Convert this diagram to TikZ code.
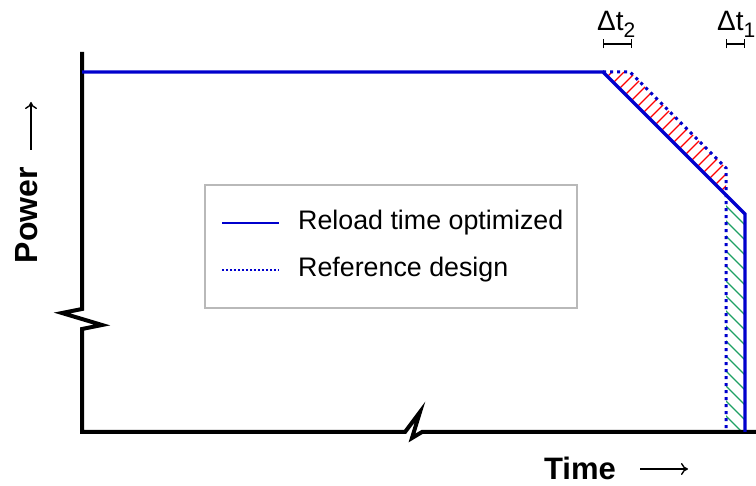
\documentclass[tikz,border=0pt]{standalone}
\usepackage{fontspec}
\setmainfont{Liberation Sans}
\usetikzlibrary{arrows.meta}

\definecolor{curveblue}{RGB}{0,0,205}
\definecolor{hatchred}{RGB}{255,0,0}
\definecolor{hatchgreen}{RGB}{30,160,100}

\begin{document}
\begin{tikzpicture}[x=1pt,y=-1pt]
   \tikzstyle{axis}=[draw=black, line width=4pt, line join=miter]
   \tikzstyle{optimized}=[draw=curveblue, line width=3.2pt, line join=miter]
   \tikzstyle{reference}=[draw=curveblue, line width=3pt, dash pattern=on 3pt off 4pt]
   \tikzstyle{hatch}=[line width=1.4pt]
   \tikzstyle{interval}=[line width=1.4pt, {Bar[width=9pt]}-{Bar[width=9pt]}]
   \tikzstyle{every node}=[inner sep=0pt, font=\fontsize{26.8}{30}\selectfont]
   \useasboundingbox (0,0) rectangle (756,486);

% corner points of both curves
\coordinate (ytop) at (82,52);
\coordinate (origin) at (82,432);
\coordinate (xend) at (756,432);
\coordinate (start) at (82,72);
\coordinate (optknee) at (603,72);
\coordinate (optdrop) at (745,214);
\coordinate (optend) at (745,432);
\coordinate (refknee) at (630,72);
\coordinate (refdrop) at (726,168);
\coordinate (refend) at (726,432);
\coordinate (cross) at (726,195);

% hatched areas
\begin{scope}
   \clip (optknee) -- (refknee) -- (refdrop) -- (cross) -- cycle;
   \foreach \c in {672,684,...,936}
      \draw[hatch, hatchred] (\c-200,200) -- (\c-60,60);
\end{scope}
\begin{scope}
   \clip (cross) -- (optdrop) -- (optend) -- (refend) -- cycle;
   \foreach \c in {280,295,...,560}
      \draw[hatch, hatchgreen] (\c+180,180) -- (\c+450,450);
\end{scope}

% axes with breaks
\draw[axis] (ytop) -- (82,309) -- (62,313) -- (102,325) -- (82,329) -- (origin)
   -- (405,432) -- (420,412) -- (412,438) -- (422,432) -- (xend);

% curves
\draw[reference] (optknee) -- (refknee) -- (refdrop) -- (refend);
\draw[optimized] (start) -- (optknee) -- (optdrop) -- (optend);

% intervals
\node[anchor=base west, font=\fontsize{28}{30}\selectfont] (dt2) at (597,31) {Δt\raisebox{-0.25em}{\fontsize{21}{21}\selectfont 2}};
\node[anchor=base west, font=\fontsize{28}{30}\selectfont] (dt1) at (717,31) {Δt\raisebox{-0.25em}{\fontsize{21}{21}\selectfont 1}};
\coordinate (dt2a) at (603,44);
\coordinate (dt2b) at (632,44);
\coordinate (dt1a) at (726,44);
\coordinate (dt1b) at (745,44);
\draw[interval] (dt2a) -- (dt2b);
\draw[interval] (dt1a) -- (dt1b);

% legend
\node[draw=gray!55, line width=1.2pt, fill=white, minimum width=372pt, minimum height=123pt] (legend) at (391,246.5) {};
\coordinate (optA) at (222,223);
\coordinate (optB) at (279,223);
\coordinate (refA) at (222,270);
\coordinate (refB) at (279,270);
\draw[draw=curveblue, line width=2.5pt] (optA) -- (optB);
\draw[draw=curveblue, line width=2pt, dash pattern=on 2pt off 2pt] (refA) -- (refB);
\node[anchor=west] (lopt) at (298,223) {Reload time optimized};
\node[anchor=west] (lref) at (298,270) {Reference design};

% axis titles
\node[rotate=90, anchor=base, font=\fontsize{32}{34}\bfseries] (power) at (37,215) {Power};
\node[anchor=base, font=\fontsize{31}{34}\bfseries] (time) at (580,480) {Time};
\coordinate (parrowA) at (31,150);
\coordinate (parrowB) at (31,102);
\coordinate (tarrowA) at (640,469);
\coordinate (tarrowB) at (688,469);
\draw[line width=1.4pt, -{To[length=7pt, width=12pt]}] (parrowA) -- (parrowB);
\draw[line width=1.4pt, -{To[length=7pt, width=12pt]}] (tarrowA) -- (tarrowB);

\end{tikzpicture}
\end{document}
